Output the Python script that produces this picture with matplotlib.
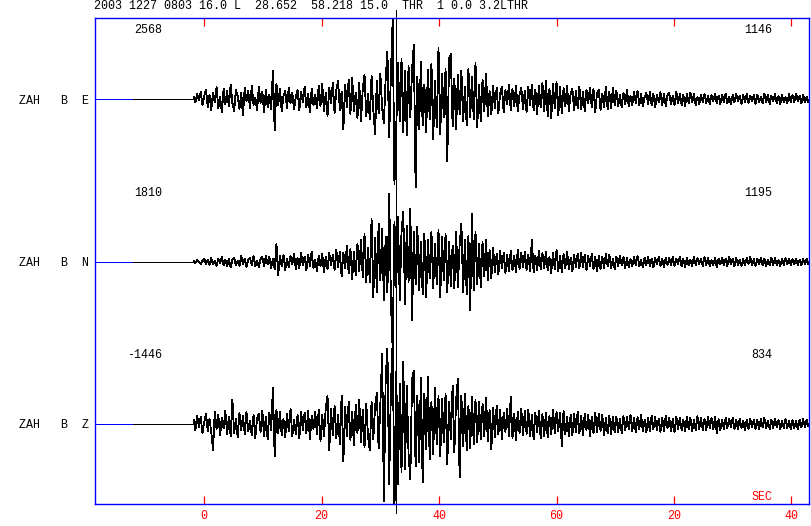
import numpy as np
import matplotlib
matplotlib.use('Agg')
import matplotlib.pyplot as plt

plt.rcParams['font.family'] = ['Liberation Mono', 'DejaVu Sans Mono']

# header / labels
header = '2003 1227 0803 16.0 L  28.652  58.218 15.0  THR  1 0.0 3.2LTHR'
channels = ['ZAH   B  E', 'ZAH   B  N', 'ZAH   B  Z']
max_left = ['2568', '1810', '-1446']
max_right = ['1146', '1195', '834']
tick_sec = [0, 20, 40, 60, 80, 100]
tick_text = ['0', '20', '40', '60', '20', '40']
long_ticks = [0, 60]

t_start = -1.8      # first sample of the signal (s)
dt = 0.3            # sample step (s)
pick_t = 32.7       # phase pick (s)

# trace deflections (pixels, up = positive), 3 s per row
e_amp = [2, -3, 5, -1, 7, -6, 3, 9, -8, 4,
         -11, 6, -3, 12, -9, 2, -13, 10, -5, 8,
         -7, 14, -4, -12, 9, 3, -10, 6, -16, 11,
         -2, 8, -9, 13, -6, 1, -11, 12, -4, 7,
         -13, 9, -8, 4, -10, 28, -31, 15, -6, 10,
         -12, 3, 8, -9, 11, -4, 6, -10, 2, 9,
         -11, 7, -3, 12, -8, 5, -13, 10, -6, 4,
         -9, 13, -7, 15, -12, 6, -17, 11, -4, 16,
         -14, 9, 18, -11, 7, -30, 14, -8, 19, -15,
         21, -12, 6, -19, 16, -22, 10, 24, -17, 5,
         -20, 23, -11, -35, 18, -14, 25, -9, -24, 20,
         47, -38, 26, 80, -85, -30, 36, -22, 40, -33,
         28, -36, 33, -18, 30, 54, -88, 22, -30, 37,
         -26, 14, -33, 29, -20, 35, -40, 18, -28, 51,
         -35, 25, -18, 30, -62, 40, 45, -27, 20, -30,
         24, -15, 28, -22, 12, -26, 30, -18, 22, -20,
         36, -28, 14, -22, 19, -12, 25, -17, 8, -15,
         13, -9, 11, -14, 6, 12, -13, 9, -5, 14,
         -11, 10, -7, 13, -12, 4, 11, -10, 8, -13,
         12, -6, 14, -11, 9, -15, 13, -8, 16, -12,
         18, -17, 10, -19, 15, -9, 17, -16, 12, -14,
         11, -7, 13, -12, 5, 10, -11, 8, -9, 12,
         -10, 7, -12, 9, -4, 11, -8, 10, -13, 6,
         9, -11, 5, -8, 12, -10, 7, -9, 11, -6,
         8, -7, 4, -8, 6, -5, 9, -7, 3, -6,
         7, -4, 8, -6, 5, -7, 2, 6, -5, 7,
         -6, 5, -8, 4, -3, 7, -6, 5, -7, 4,
         6, -5, 3, -6, 7, -4, 5, -6, 4, -7,
         5, -4, 6, -3, 5, -6, 2, -5, 4, -3,
         5, -4, 3, -5, 4, -2, 5, -4, 3, -5,
         4, -3, 5, -4, 2, -5, 4, -3, 5, -2,
         3, -5, 4, -3, 5, -4, 3, -2, 4, -5,
         4, -3, 2, -4, 5, -3, 4, -5, 3, -2,
         5, -4, 3, -5, 4, -3, 2, -4, 5, -3,
         4, -3, 5, -2, 3, -4, 4, -3, 2, -3]

n_amp = [1, -1, 2, 0, -2, 1, 3, -2, 2, -3,
         4, -2, 1, -4, 3, -1, 5, -3, 2, -4,
         3, -5, 2, 4, -3, 1, -4, 6, -2, 3,
         -5, 2, 4, -3, 6, -4, 1, -5, 3, 5,
         -4, 6, -2, 5, -6, 3, -7, 18, -13, 6,
         -4, 7, -8, 3, -5, 6, -2, 8, -7, 4,
         -6, 9, -3, 5, -8, 7, -4, 10, -6, 2,
         -9, 6, -4, 8, -10, 5, -7, 9, -3, 7,
         -8, 12, -5, 10, -14, 9, -6, 16, -11, 13,
         -17, 10, -13, 18, -9, 22, -15, 28, -20, 14,
         -20, 43, -35, 24, -30, 38, -18, 33, -38, 25,
         -30, 68, -40, -88, 40, -25, 45, -38, 30, 50,
         -42, 36, -20, 53, -58, 30, -22, 35, -28, 20,
         -32, 28, -35, 22, -16, 30, -26, 18, -22, 32,
         -35, 25, -18, 28, -30, 20, -24, 16, -26, 30,
         -25, 18, 38, -30, 22, -32, 26, -48, 48, -28,
         30, -22, 18, -25, 20, -14, 22, -18, 12, -16,
         14, -10, 8, -12, 11, -6, 9, -11, 7, -9,
         11, -8, 6, -10, 12, -7, 9, -5, 10, -8,
         7, -9, 22, -10, 6, -8, 11, -7, 9, -6,
         10, -8, 5, -11, 9, -7, 12, -9, 6, -10,
         8, -6, 10, -7, 4, -9, 7, -5, 8, -6,
         9, -5, 7, -8, 6, -4, 8, -7, 5, -9,
         6, -7, 5, -6, 8, -4, 7, -6, 3, -7,
         5, -4, 6, -3, 5, -6, 4, -5, 3, -4,
         5, -3, 6, -4, 2, -5, 4, -3, 5, -4,
         3, -5, 4, -2, 5, -4, 3, -5, 4, -3,
         4, -3, 5, -4, 3, -2, 5, -4, 3, -5,
         4, -3, 2, -4, 5, -3, 4, -2, 3, -4,
         5, -3, 4, -4, 2, -3, 4, -5, 3, -2,
         4, -3, 3, -4, 5, -2, 3, -4, 4, -3,
         2, -4, 3, -3, 4, -2, 5, -3, 3, -4,
         3, -2, 4, -3, 3, -4, 2, -3, 4, -3,
         4, -3, 2, -4, 3, -3, 4, -2, 3, -3,
         3, -2, 3, -3, 2, -3, 3, -2, 3, -2]

z_amp = [4, -6, 8, -3, 7, -9, 2, 10, -7, 5,
         -8, -26, 12, -5, 9, -11, 6, -4, 13, -10,
         7, -12, 24, -9, 5, -13, 11, -6, 8, -10,
         12, -7, 3, -11, 9, -14, 6, 10, -8, 13,
         -12, 7, -15, 11, -6, 36, -32, 14, -9, 12,
         -11, 5, -13, 10, -7, 15, -12, 4, -10, 9,
         -14, 12, -6, 11, -9, 13, -15, 8, -5, 12,
         -10, 14, -17, 9, -12, 16, 28, -26, 15, -11,
         18, -14, 9, -20, 28, -37, 17, -12, 22, -16,
         12, -21, 19, -9, 24, -18, 14, -23, 20, -13,
         -26, 22, -15, 18, 31, -24, 20, 70, -77, 45,
         75, -60, 38, 83, -87, 52, -60, 40, -48, 62,
         -45, 38, -30, -55, 45, 53, -42, 28, -38, 46,
         -58, 30, -25, 47, -35, 22, -30, 36, -20, 28,
         -32, 25, -18, 30, -40, 22, -15, 38, -28, 24,
         45, -53, 28, -22, 30, -26, 18, -24, 27, -20,
         24, -18, 22, -15, 20, -12, 26, -17, 14, -25,
         16, -13, 18, -10, 14, -15, 11, -8, 15, -12,
         27, -14, 10, -16, 12, -9, 15, -11, 13, -10,
         14, -12, 9, -15, 11, -8, 13, -14, 10, -12,
         11, -13, 8, -10, 14, -9, 12, -7, 11, -22,
         13, -10, 7, -12, 9, -11, 10, -8, 12, -9,
         8, -11, 10, -6, 9, -12, 7, -9, 11, -8,
         10, -7, 9, -11, 6, -9, 8, -10, 7, -8,
         7, -8, 5, -9, 8, -6, 7, -5, 9, -7,
         6, -8, 7, -5, 9, -7, 4, -8, 6, -7,
         8, -5, 7, -6, 5, -8, 6, -7, 8, -4,
         6, -7, 5, -8, 7, -5, 6, -6, 4, -7,
         7, -5, 6, -7, 4, -6, 8, -5, 6, -6,
         5, -6, 7, -4, 6, -5, 7, -9, 5, -6,
         4, -5, 6, -4, 5, -3, 6, -5, 4, -5,
         5, -4, 3, -6, 4, -5, 5, -3, 4, -5,
         4, -5, 5, -3, 6, -4, 3, -5, 4, -4,
         5, -3, 4, -5, 3, -4, 5, -4, 3, -5,
         4, -4, 3, -5, 4, -3, 5, -3, 4, -2]

traces = [e_amp, n_amp, z_amp]
baselines = [99, 262, 424]   # pixel rows of the trace zero lines

W, H = 811, 526
fig = plt.figure(figsize=(W / 100, H / 100), dpi=100)
ax = fig.add_axes([95 / W, (H - 504) / H, (809 - 95) / W, (504 - 18) / H])
ax.set_xlim(-18.6, 103.0)
ax.set_ylim(504, 18)

def px(x, y):
    return x / W, 1 - y / H

lw = 0.6
for amp, base in zip(traces, baselines):
    a = np.array(amp, dtype=float)
    t = t_start + dt * np.arange(len(a))
    ax.plot([-18.6, -12.1], [base, base], color='blue', lw=lw, antialiased=False)
    ax.plot([-12.1, t_start], [base, base], color='black', lw=lw, antialiased=False)
    ax.plot(t, base - a, color='black', lw=lw, antialiased=False)

ax.plot([pick_t, pick_t], [10, 513], color='black', lw=lw, clip_on=False,
        antialiased=False)

for sp in ax.spines.values():
    sp.set_color('blue')
    sp.set_linewidth(1.0)

# seconds axis
ax.set_xticks(tick_sec, tick_text)
ax.set_xticks(long_ticks, minor=True)
ax.tick_params(axis='x', which='major', direction='in', length=6, width=0.9,
               color='red', labelcolor='red', labelsize=8.4, top=True, pad=4)
ax.tick_params(axis='x', which='minor', direction='in', length=11, width=0.9,
               color='red', top=True)

ax.set_yticks(baselines, channels)
ax.tick_params(axis='y', length=0, labelsize=8.4, pad=4)

fs = 8.4
fig.text(*px(94, 6), header, fontsize=fs, va='center', ha='left')
for lbl, rbl, base in zip(max_left, max_right, baselines):
    fig.text(*px(162, base - 69), lbl, fontsize=fs, va='center', ha='right')
    fig.text(*px(772, base - 69), rbl, fontsize=fs, va='center', ha='right')
fig.text(*px(772, 497), 'SEC', fontsize=fs, color='red', va='center', ha='right')

fig.savefig('out.png', dpi=100)
